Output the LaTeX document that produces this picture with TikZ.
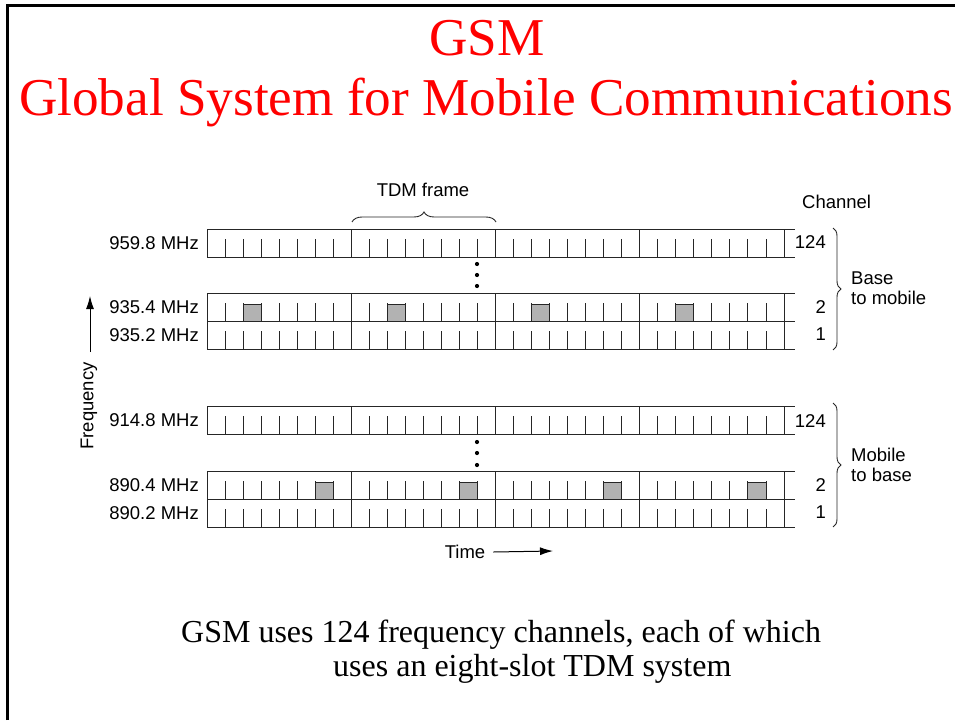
\documentclass[tikz,border=0pt]{standalone}
\usepackage{fontspec}
\setmainfont{Liberation Serif}
\newfontfamily\figfont{Liberation Sans}
\usetikzlibrary{arrows.meta,decorations.pathreplacing}

\begin{document}
\begin{tikzpicture}[x=1pt, y=-1pt,
  rowline/.style={black!85, line width=0.9pt},
  slotfill/.style={fill=black!30, draw=black!85, line width=0.9pt},
  figtext/.style={font=\figfont\fontsize{18.5}{20}\selectfont, inner sep=0pt},
  titletext/.style={font=\fontsize{53.2}{60}\selectfont, text=red, inner sep=0pt, anchor=base},
  bodytext/.style={font=\fontsize{32}{36}\selectfont, inner sep=0pt, anchor=base west},
  bracestyle/.style={decorate, decoration={brace, amplitude=#1}, line width=0.9pt, black!85}]
\useasboundingbox (0,0) rectangle (955,720);

% =====================
% CORNICE
% =====================
\draw[line width=3pt] (7.3,720) -- (7.3,5.3) -- (955,5.3);

% =====================
% TITOLO
% =====================
\node[titletext] (gsm) at (487,55) {GSM};
\node[titletext] (gsmlong) at (486,115) {Global System for Mobile Communications};

% =====================
% CANALI (righe TDM)
% =====================
\foreach \ytop in {229,293,321,406,471,499}{
  \draw[rowline] (207,\ytop) -- (795,\ytop);
  \draw[rowline] (207,\ytop+28) -- (795,\ytop+28);
  \foreach \f in {0,...,4}
    \draw[rowline] (207+144.25*\f,\ytop) -- ++(0,28);
}

% slot occupati
\foreach \f in {0,...,3}{
  \draw[slotfill] (207+144.25*\f+18.03*2,321) rectangle ++(18.03,-17);
  \draw[slotfill] (207+144.25*\f+18.03*6,499) rectangle ++(18.03,-17);
}

% separatori di slot
\foreach \ytop in {229,293,321,406,471,499}
  \foreach \f in {0,...,3}
    \foreach \s in {1,...,7}
      \draw[rowline] (207+144.25*\f+18.03*\s,\ytop+28) -- ++(0,-18);

% puntini
\foreach \yy in {264,275,286,442,453,465}
  \fill (477,\yy) circle (2.1);

% =====================
% ETICHETTE FREQUENZE
% =====================
\node[figtext, anchor=east] (f1248) at (199,243) {959.8 MHz};
\node[figtext, anchor=east] (f354) at (199,307) {935.4 MHz};
\node[figtext, anchor=east] (f352) at (199,335) {935.2 MHz};
\node[figtext, anchor=east] (f148) at (199,420) {914.8 MHz};
\node[figtext, anchor=east] (f904) at (199,485) {890.4 MHz};
\node[figtext, anchor=east] (f902) at (199,513) {890.2 MHz};

% =====================
% CANALI E DIREZIONI
% =====================
\node[figtext, anchor=west] (chan) at (802,202) {Channel};
\node[figtext, anchor=east] (cdown124) at (826,242) {124};
\node[figtext, anchor=east] (cdown2) at (826,307) {2};
\node[figtext, anchor=east] (cdown1) at (826,334) {1};
\node[figtext, anchor=east] (cup124) at (826,421) {124};
\node[figtext, anchor=east] (cup2) at (826,485) {2};
\node[figtext, anchor=east] (cup1) at (826,512) {1};

\draw[bracestyle=8] (833,228) -- (833,350);
\draw[bracestyle=8] (833,403) -- (833,527);
\node[figtext, anchor=west, align=left] (down) at (851,288) {Base\\to mobile};
\node[figtext, anchor=west, align=left] (up) at (851,465) {Mobile\\to base};

% =====================
% TDM FRAME
% =====================
\draw[bracestyle=10] (352,222) -- (496,222);
\node[figtext] (frame) at (423,190) {TDM frame};

% =====================
% ASSI
% =====================
\coordinate (fbot) at (90,352);
\coordinate (ftop) at (90,296);
\draw[line width=1pt, -{Latex[length=13pt, width=8pt]}] (fbot) -- (ftop);
\node[figtext, rotate=90] (freq) at (89,406) {Frequency};

\node[figtext] (time) at (465,552) {Time};
\coordinate (tend) at (553,551);
\draw[line width=1pt, -{Latex[length=13pt, width=8pt]}] ([xshift=8pt]time.east) -- (tend);

% =====================
% DIDASCALIA
% =====================
\node[bodytext] (cap1) at (181,642) {GSM uses 124 frequency channels, each of which};
\node[bodytext] (cap2) at (333,676) {uses an eight-slot TDM system};

\end{tikzpicture}
\end{document}
